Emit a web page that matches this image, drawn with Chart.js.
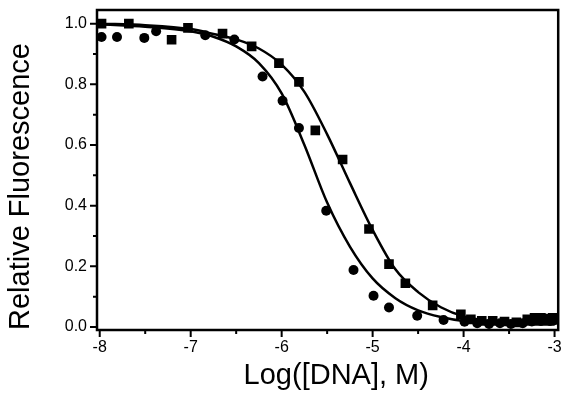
<!DOCTYPE html>
<html>
<head>
<meta charset="utf-8">
<script src="https://cdn.jsdelivr.net/npm/chart.js@4/dist/chart.umd.min.js"></script>
<style>
	html, body { margin: 0; padding: 0; background: #fff; }
	#wrap { width: 565px; height: 394px; }
</style>
</head>
<body>
<div id="wrap"><canvas id="chart"></canvas></div>
<script>
/* squares: measured points */
const sq_x = [-7.98, -7.68, -7.21, -7.03, -6.65, -6.33, -6.03, -5.81, -5.63, -5.33, -5.04, -4.82, -4.64, -4.34, -4.03,
              -3.92, -3.80, -3.68, -3.55, -3.42, -3.30, -3.22, -3.15, -3.08, -3.02];
const sq_y = [1.00, 1.00, 0.947, 0.986, 0.967, 0.925, 0.870, 0.808, 0.648, 0.552, 0.323, 0.207, 0.144, 0.071, 0.042,
              0.025, 0.020, 0.020, 0.018, 0.015, 0.025, 0.030, 0.030, 0.028, 0.030];

/* circles: measured points */
const ci_x = [-7.98, -7.81, -7.51, -7.38, -6.84, -6.52, -6.21, -5.99, -5.81, -5.51, -5.21, -4.99, -4.82, -4.51, -4.22, -3.99,
              -3.85, -3.72, -3.60, -3.48, -3.35, -3.25, -3.15, -3.05, -3.00];
const ci_y = [0.956, 0.956, 0.953, 0.975, 0.962, 0.948, 0.826, 0.746, 0.656, 0.383, 0.188, 0.103, 0.064, 0.037, 0.023, 0.017,
              0.012, 0.010, 0.012, 0.010, 0.012, 0.018, 0.020, 0.020, 0.022];

/* fitted curves */
const fit_x     = [-8, -7.5, -7, -6.75, -6.5, -6.25, -6, -5.75, -5.5, -5.25, -5, -4.75, -4.5, -4.25, -4, -3.5, -3];
const sq_fit_y  = [1.00, 0.995, 0.982, 0.966, 0.948, 0.918, 0.865, 0.775, 0.635, 0.475, 0.320, 0.190, 0.115, 0.065, 0.035, 0.015, 0.012];
const ci_fit_y  = [0.998, 0.990, 0.975, 0.957, 0.925, 0.870, 0.770, 0.600, 0.410, 0.265, 0.160, 0.095, 0.055, 0.033, 0.020, 0.010, 0.008];

/* tick labels */
const x_ticks = [-8, -7, -6, -5, -4, -3];
const x_minor = [-7.5, -6.5, -5.5, -4.5, -3.5];
const y_ticks = [0.0, 0.2, 0.4, 0.6, 0.8, 1.0];
const y_minor = [0.1, 0.3, 0.5, 0.7, 0.9];

const x_title = 'Log([DNA], M)';
const y_title = 'Relative Fluorescence';

const font_family = "'Liberation Sans', Arial, sans-serif";

function pts(xs, ys) {
	return xs.map((x, i) => ({ x: x, y: ys[i] }));
}

// frame round the plot, outward tick marks, x title (sits a bit right of centre)
const frame_plugin = {
	id: 'frame',
	afterDatasetsDraw(chart) {
		const { ctx, chartArea: a, scales } = chart;
		const x = scales.x, y = scales.y;

		ctx.save();
		ctx.strokeStyle = '#000';
		ctx.lineWidth = 2.5;
		ctx.strokeRect(a.left, a.top, a.right - a.left, a.bottom - a.top);

		ctx.lineWidth = 2;
		ctx.beginPath();
		x_ticks.forEach(v => { const p = x.getPixelForValue(v); ctx.moveTo(p, a.bottom); ctx.lineTo(p, a.bottom + 7); });
		x_minor.forEach(v => { const p = x.getPixelForValue(v); ctx.moveTo(p, a.bottom); ctx.lineTo(p, a.bottom + 4); });
		y_ticks.forEach(v => { const p = y.getPixelForValue(v); ctx.moveTo(a.left, p); ctx.lineTo(a.left - 7, p); });
		y_minor.forEach(v => { const p = y.getPixelForValue(v); ctx.moveTo(a.left, p); ctx.lineTo(a.left - 4, p); });
		ctx.stroke();

		ctx.fillStyle = '#000';
		ctx.font = `29px ${font_family}`;
		ctx.textAlign = 'center';
		ctx.textBaseline = 'middle';
		ctx.fillText(x_title, x.getPixelForValue(-5.4), 376);
		ctx.restore();
	}
};

const tick_font  = { family: font_family, size: 16 };
const title_font = { family: font_family, size: 29 };

new Chart(document.getElementById('chart'), {
	type: 'scatter',
	data: {
		datasets: [
			{
				data: pts(fit_x, sq_fit_y), showLine: true, pointRadius: 0,
				borderColor: '#000', borderWidth: 2.5, cubicInterpolationMode: 'monotone'
			},
			{
				data: pts(fit_x, ci_fit_y), showLine: true, pointRadius: 0,
				borderColor: '#000', borderWidth: 2.5, cubicInterpolationMode: 'monotone'
			},
			{
				data: pts(sq_x, sq_y), pointStyle: 'rect', pointRadius: 6.8,
				backgroundColor: '#000', borderColor: '#000', borderWidth: 0
			},
			{
				data: pts(ci_x, ci_y), pointStyle: 'circle', pointRadius: 5,
				backgroundColor: '#000', borderColor: '#000', borderWidth: 0
			}
		]
	},
	options: {
		responsive: true,
		maintainAspectRatio: false,
		animation: false,
		layout: { padding: { top: 10, right: 2, left: 0, bottom: 0 } },
		plugins: {
			legend:  { display: false },
			tooltip: { enabled: false }
		},
		scales: {
			x: {
				type: 'linear',
				min: -8.03,
				max: -2.96,
				afterBuildTicks: scale => { scale.ticks = x_ticks.map(v => ({ value: v })); },
				afterFit: scale => { scale.height = 64; scale.paddingLeft = 0; scale.paddingRight = 0; },
				ticks: { font: tick_font, color: '#000', padding: 2, maxRotation: 0, callback: v => String(v) },
				grid: { drawOnChartArea: false, tickLength: 6, color: 'transparent' },
				border: { display: false },
				title: { display: false }
			},
			y: {
				type: 'linear',
				min: -0.01,
				max: 1.045,
				afterBuildTicks: scale => { scale.ticks = y_ticks.map(v => ({ value: v })); },
				afterFit: scale => { scale.width = 97; scale.paddingTop = 0; scale.paddingBottom = 0; },
				ticks: { font: tick_font, color: '#000', padding: 4, callback: v => v.toFixed(1) },
				grid: { drawOnChartArea: false, tickLength: 6, color: 'transparent' },
				border: { display: false },
				title: { display: true, text: y_title, align: 'start', font: title_font, color: '#000', padding: { top: 4, bottom: 0 } }
			}
		}
	},
	plugins: [frame_plugin]
});
</script>
</body>
</html>
